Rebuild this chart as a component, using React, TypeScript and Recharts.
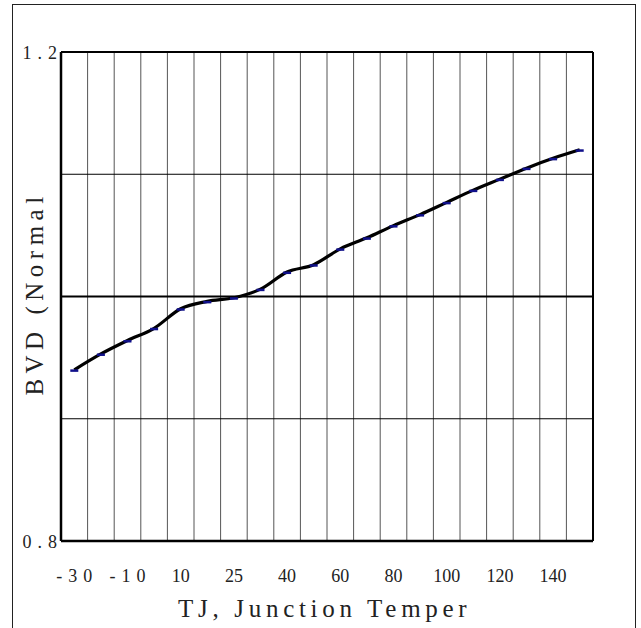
import React from "react"
import {
  LineChart,
  Line,
  XAxis,
  YAxis,
  CartesianGrid,
  ReferenceLine,
} from "recharts"

// temperature categories, one per grid column
const categories = [
  "-30", "-20", "-10", "0", "10", "20", "25", "30", "40", "50",
  "60", "70", "80", "90", "100", "110", "120", "130", "140", "150",
]
// normalized breakdown voltage
const bvdValues = [
  0.94, 0.953, 0.964, 0.974, 0.99, 0.996, 0.999, 1.006, 1.02, 1.026,
  1.039, 1.048, 1.058, 1.067, 1.077, 1.087, 1.096, 1.105, 1.113, 1.12,
]
const yTicks = [0.8, 0.9, 1.0, 1.1, 1.2]
const yLabelled = [0.8, 1.2]
const spacedLabels = ["-30", "-10"]

const data = categories.map((temp, i) => ({ slot: i + 0.5, temp, bvd: bvdValues[i] }))
const gridTicks = categories.map((_, i) => i).concat(categories.length)
const labelTicks = data.filter((_, i) => i % 2 === 0).map((d) => d.slot)

const FONT = "'Liberation Serif', 'DejaVu Serif', serif"

function XTick(props: any) {
  const { x, y, payload } = props
  const idx = Math.floor(payload.value)
  const text = categories[idx]
  const spaced = spacedLabels.includes(text)
  return (
    <text
      x={x + (spaced ? 3 : 0)}
      y={y + 33}
      textAnchor="middle"
      fontFamily={FONT}
      fontSize={18}
      letterSpacing={spaced ? 6 : 0}
      fill="#222"
    >
      {text}
    </text>
  )
}

function YTick(props: any) {
  const { x, y, payload } = props
  if (!yLabelled.includes(payload.value)) return null
  return (
    <text
      x={x + 10}
      y={y + 7}
      textAnchor="end"
      fontFamily={FONT}
      fontSize={18}
      letterSpacing={6}
      fill="#222"
    >
      {payload.value.toFixed(1)}
    </text>
  )
}

function DashDot(props: any) {
  const { cx, cy } = props
  if (cx == null || cy == null) return null
  return <rect x={cx - 4} y={cy - 0.5} width={8} height={2.5} fill="#10108a" />
}

export default function App() {
  return (
    <div style={{ position: "relative", width: 641, height: 628, background: "#fff" }}>
      <style>{`body{margin:0}`}</style>
      <div
        style={{
          position: "absolute",
          left: 12,
          top: 4,
          width: 624,
          height: 640,
          border: "1.5px solid #222",
          boxSizing: "border-box",
        }}
      />
      <div style={{ position: "absolute", left: 0, top: 0 }}>
        <LineChart
          width={641}
          height={628}
          data={data}
          margin={{ top: 52, right: 48, bottom: 47, left: 0 }}
        >
          <XAxis
            xAxisId="grid"
            orientation="top"
            type="number"
            dataKey="slot"
            domain={[0, 20]}
            ticks={gridTicks}
            hide
          />
          <XAxis
            xAxisId="x"
            type="number"
            dataKey="slot"
            domain={[0, 20]}
            ticks={labelTicks}
            interval={0}
            height={40}
            axisLine={false}
            tickLine={false}
            tick={<XTick />}
            label={{
              content: ({ viewBox }: any) => (
                <text
                  x={viewBox.x + 117}
                  y={viewBox.y + 76}
                  fontFamily={FONT}
                  fontSize={25}
                  letterSpacing={4.7}
                  fill="#222"
                >
                  TJ, Junction Temper
                </text>
              ),
            }}
          />
          <YAxis
            type="number"
            domain={[0.8, 1.2]}
            ticks={yTicks}
            width={61}
            axisLine={false}
            tickLine={false}
            tick={<YTick />}
            label={{
              content: ({ viewBox }: any) => (
                <text
                  x={43}
                  y={viewBox.y + viewBox.height / 2 - 3}
                  transform={`rotate(-90, 43, ${viewBox.y + viewBox.height / 2 - 3})`}
                  textAnchor="middle"
                  fontFamily={FONT}
                  fontSize={25}
                  letterSpacing={5.5}
                  fill="#222"
                >
                  BVD (Normal
                </text>
              ),
            }}
          />
          <CartesianGrid xAxisId="grid" horizontal={false} stroke="#555" strokeWidth={1} />
          <CartesianGrid xAxisId="x" vertical={false} stroke="#000" strokeWidth={1} />
          <ReferenceLine xAxisId="x" y={1.0} stroke="#000" strokeWidth={2} />
          <ReferenceLine xAxisId="x" y={1.2} stroke="#000" strokeWidth={2} />
          <ReferenceLine xAxisId="x" y={0.8} stroke="#000" strokeWidth={2.5} />
          <ReferenceLine xAxisId="x" x={0} stroke="#000" strokeWidth={2.5} />
          <ReferenceLine xAxisId="x" x={20} stroke="#000" strokeWidth={2} />
          <Line
            xAxisId="x"
            type="monotone"
            dataKey="bvd"
            stroke="#000"
            strokeWidth={3.2}
            dot={<DashDot />}
            activeDot={false}
            isAnimationActive={false}
          />
        </LineChart>
      </div>
    </div>
  )
}
